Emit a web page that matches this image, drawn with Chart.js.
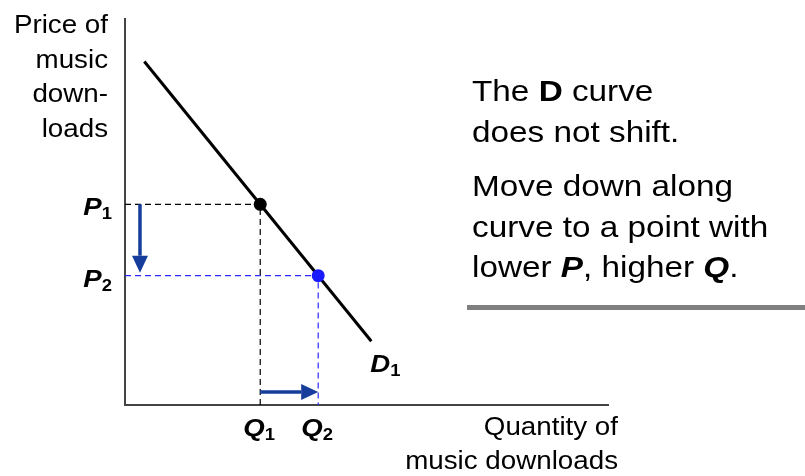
<!DOCTYPE html>
<html>
<head>
<meta charset="utf-8">
<script src="https://cdn.jsdelivr.net/npm/chart.js@4/dist/chart.umd.min.js"></script>
<style>
  body { margin: 0; background: #fff; }
  #wrap { width: 805px; height: 476px; }
</style>
</head>
<body>
<div id="wrap"><canvas id="demandChart" width="805" height="476"></canvas></div>
<script>
// demand curve D1 (quantity, price)
const demandQ = [0.4, 5.1];
const demandP = [8.9, 1.65];
// the two points on the curve: 1 = before, 2 = after the price drop
const pointQ = [2.8, 4.0];
const pointP = [5.2, 3.35];
const pointLabels = ['1', '2'];

const FONT = '"Liberation Sans", Arial, sans-serif';
const SX = 1.11; // text is drawn a bit wide

const blue = '#1a1aff';
const arrowBlue = '#163d9c';

function guide(i, color) {
  return {
    data: [{ x: 0, y: pointP[i] }, { x: pointQ[i], y: pointP[i] }, { x: pointQ[i], y: 0 }],
    showLine: true,
    borderColor: color,
    borderWidth: 1.2,
    borderDash: [6, 4],
    pointRadius: 0,
    fill: false
  };
}

// draws a row of text runs, stretched horizontally
function runs(ctx, parts, x, y, align, sx) {
  sx = sx || SX;
  ctx.save();
  ctx.translate(x, y);
  ctx.scale(sx, 1);
  let w = 0;
  parts.forEach(p => { ctx.font = p[1]; w += ctx.measureText(p[0]).width; });
  let cx = align === 'right' ? -w : 0;
  ctx.textAlign = 'left';
  parts.forEach(p => {
    ctx.font = p[1];
    ctx.fillText(p[0], cx, p[2] || 0);
    cx += ctx.measureText(p[0]).width;
  });
  ctx.restore();
}

function arrow(ctx, x1, y1, x2, y2) {
  const a = Math.atan2(y2 - y1, x2 - x1);
  const len = 17, half = 8;
  const bx = x2 - len * Math.cos(a), by = y2 - len * Math.sin(a);
  ctx.save();
  ctx.strokeStyle = arrowBlue;
  ctx.fillStyle = arrowBlue;
  ctx.lineWidth = 3.5;
  ctx.beginPath();
  ctx.moveTo(x1, y1);
  ctx.lineTo(bx, by);
  ctx.stroke();
  ctx.beginPath();
  ctx.moveTo(x2, y2);
  ctx.lineTo(bx - half * Math.sin(a), by + half * Math.cos(a));
  ctx.lineTo(bx + half * Math.sin(a), by - half * Math.cos(a));
  ctx.closePath();
  ctx.fill();
  ctx.restore();
}

const annotations = {
  id: 'annotations',
  afterDraw(chart) {
    const ctx = chart.ctx;
    const xs = chart.scales.x, ys = chart.scales.y;
    const axisFont = '25px ' + FONT;
    const bi = 'italic bold 24px ' + FONT;
    const sub = 'bold 16px ' + FONT;
    ctx.fillStyle = '#000';
    ctx.textBaseline = 'alphabetic';

    // price arrow down, quantity arrow right
    const ax = xs.getPixelForValue(0.31);
    arrow(ctx, ax, ys.getPixelForValue(pointP[0]), ax, ys.getPixelForValue(pointP[1]) - 3);
    const ay = ys.getPixelForValue(0.34);
    arrow(ctx, xs.getPixelForValue(pointQ[0]), ay, xs.getPixelForValue(pointQ[1]), ay);

    // P and Q labels
    pointLabels.forEach((s, i) => {
      const py = ys.getPixelForValue(pointP[i]);
      runs(ctx, [['P', bi], [s, sub, 4]], 112, py + 11, 'right', 1.15);
      const qx = xs.getPixelForValue(pointQ[i]);
      runs(ctx, [['Q', bi], [s, sub, 4]], qx - 17, 436, null, 1.15);
    });
    runs(ctx, [['D', bi], ['1', sub, 4]], xs.getPixelForValue(demandQ[1]) - 1, 372, null, 1.15);

    // axis titles
    ['Price of', 'music', 'down-', 'loads'].forEach((t, i) => {
      runs(ctx, [[t, axisFont]], 108, 33 + i * 34.7, 'right');
    });
    runs(ctx, [['Quantity of', axisFont]], 618, 435, 'right');
    runs(ctx, [['music downloads', axisFont]], 618, 469, 'right');

    // note on the right
    const big = '30px ' + FONT;
    const b = 'bold 30px ' + FONT;
    const ib = 'italic bold 30px ' + FONT;
    runs(ctx, [['The ', big], ['D', b], [' curve', big]], 472, 101);
    runs(ctx, [['does not shift.', big]], 472, 142);
    runs(ctx, [['Move down along', big]], 472, 196);
    runs(ctx, [['curve to a point with', big]], 472, 237);
    runs(ctx, [['lower ', big], ['P', ib], [', higher ', big], ['Q', ib], ['.', big]], 472, 277);
    ctx.fillStyle = '#7f7f7f';
    ctx.fillRect(467, 305, 338, 5);
  }
};

new Chart(document.getElementById('demandChart').getContext('2d'), {
  type: 'scatter',
  data: {
    datasets: [
      {
        data: pointQ.map((q, i) => ({ x: q, y: pointP[i] })),
        pointRadius: 6.5,
        pointBackgroundColor: ['#000', blue],
        pointBorderWidth: 0,
        showLine: false,
        clip: false
      },
      {
        data: demandQ.map((q, i) => ({ x: q, y: demandP[i] })),
        showLine: true,
        borderColor: '#000',
        borderWidth: 3,
        pointRadius: 0,
        clip: false
      },
      guide(1, '#2b2bff'),
      guide(0, '#000')
    ]
  },
  options: {
    responsive: false,
    animation: false,
    events: [],
    layout: { padding: { left: 125, right: 197, top: 19, bottom: 71 } },
    plugins: { legend: { display: false }, tooltip: { enabled: false } },
    scales: {
      x: {
        type: 'linear', min: 0, max: 10,
        grid: { display: false, drawTicks: false },
        ticks: { display: false },
        border: { display: true, color: '#444', width: 2 }
      },
      y: {
        type: 'linear', min: 0, max: 10,
        grid: { display: false, drawTicks: false },
        ticks: { display: false },
        border: { display: true, color: '#444', width: 2 }
      }
    }
  },
  plugins: [annotations]
});
</script>
</body>
</html>
